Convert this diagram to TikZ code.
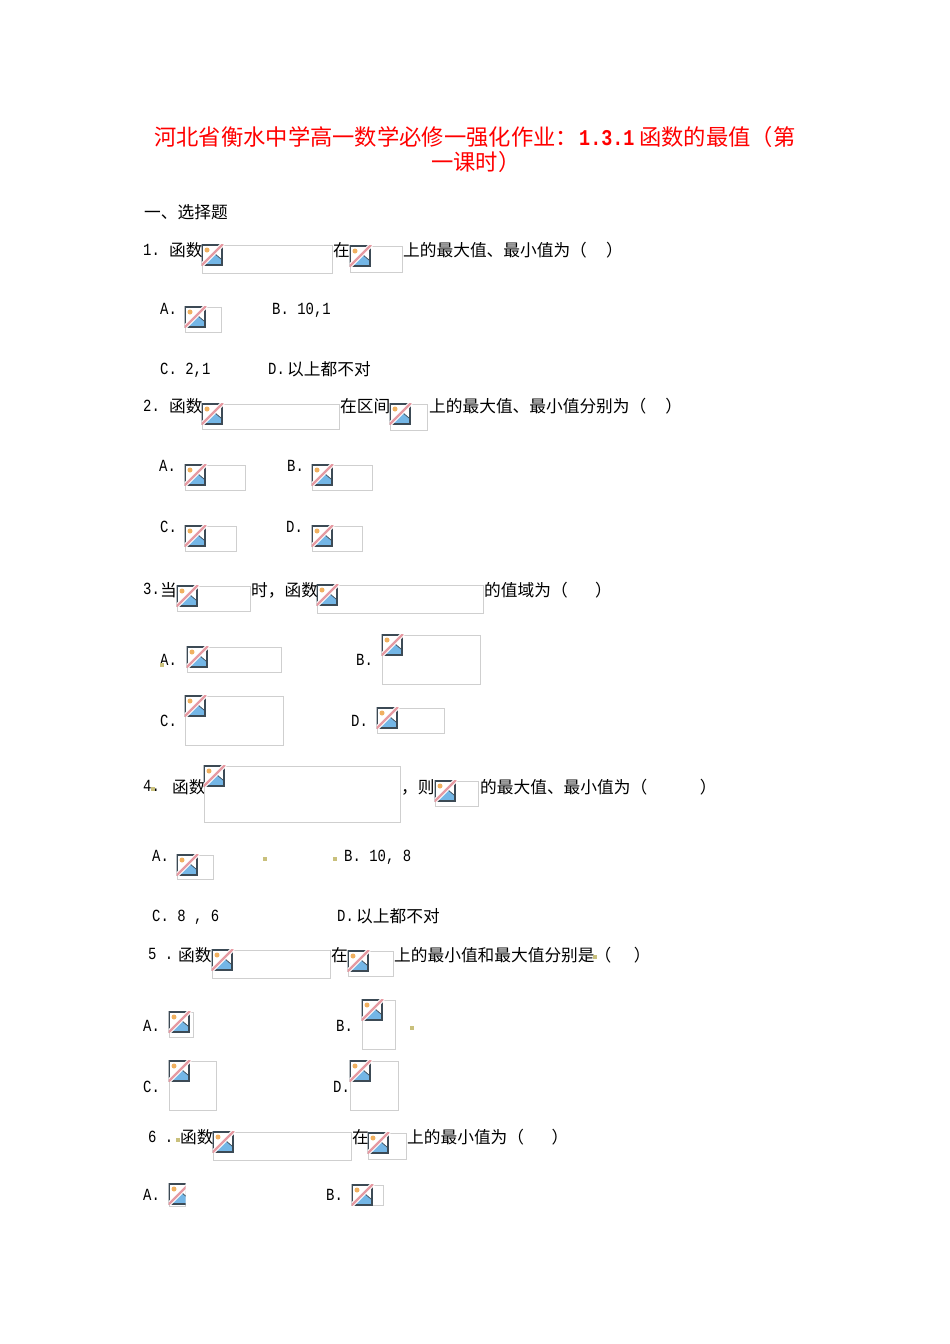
\documentclass[tikz,border=0pt]{standalone}
\usepackage{fontspec}
\newfontfamily\cjk{Noto Sans CJK SC}
\newfontfamily\latn[FakeStretch=0.82]{Liberation Mono}
\definecolor{phgray}{HTML}{CFCFCF}
\definecolor{phblue}{HTML}{74B6E6}
\definecolor{phdark}{HTML}{3C4A55}
\definecolor{phpink}{HTML}{E59AA2}
\definecolor{phsun}{HTML}{F0B060}
\definecolor{speck}{HTML}{C9C07C}
\newcommand{\brokenimg}[4]{%
  \draw[phgray,line width=1pt] (#1,#2) rectangle (#3,#4);
  \begin{scope}
    \clip (#1-0.5,#2-0.5) rectangle (#3+0.5,#2+20.5);
    \fill[white] (#1,#2) rectangle ++(20,20);
    \fill[phblue] (#1+1,#2+19) -- (#1+12,#2+8) -- (#1+19,#2+14) -- (#1+19,#2+19) -- cycle;
    \draw[phdark,line width=0.7pt] (#1+2,#2+19) -- (#1+12,#2+8) -- (#1+19,#2+14);
    \fill[phsun] (#1+5,#2+5) circle (2.5);
    \draw[phdark,line width=1.1pt] (#1,#2) rectangle ++(20,20);
    \draw[white,line width=4.5pt] (#1-1,#2+21) -- (#1+21,#2-1);
    \draw[phpink,line width=2.2pt] (#1-1,#2+21) -- (#1+21,#2-1);
  \end{scope}
}
\begin{document}
\begin{tikzpicture}[x=1pt,y=-1pt]
    \tikzstyle{txt}=[anchor=base west,inner sep=0pt,font=\cjk\fontsize{16.7}{20}\selectfont]
    \tikzstyle{lat}=[anchor=base west,inner sep=0pt,font=\latn\fontsize{17}{20}\selectfont]
    \tikzstyle{ttl}=[anchor=base west,inner sep=0pt,red,font=\cjk\fontsize{22.3}{26}\selectfont]
    \tikzstyle{ttllat}=[anchor=base west,inner sep=0pt,red,font=\latn\bfseries\fontsize{22.5}{26}\selectfont]
    \useasboundingbox (0,0) rectangle (950,1344);
    \fill[white] (0,0) rectangle (950,1344);

    % title
    \node[ttl] (title1) at (154,145) {河北省衡水中学高一数学必修一强化作业：};
    \node[ttllat] (titlenum) at (579,145) {1.3.1};
    \node[ttl] (title2) at (639,145) {函数的最值（第};
    \node[ttl] (title3) at (431,170) {一课时）};
    \node[txt] (sect) at (144,218) {一、选择题};

    % question 1
    \node[lat] (qone) at (143,255) {1.};
    \node[txt] (qonea) at (169,256) {函数};
    \node[txt] (qoneb) at (333,256) {在};
    \node[txt] (qonec) at (403,256) {上的最大值、最小值为（\hspace{1.15em}）};
    \node[lat] (qoneA) at (160,314) {A.};
    \node[lat] (qoneB) at (272,314) {B. 10,1};
    \node[lat] (qoneC) at (160,374) {C. 2,1};
    \node[lat] (qoneD) at (268,374) {D.};
    \node[txt] (qoneDt) at (287,375) {以上都不对};

    % question 2
    \node[lat] (qtwo) at (143,411) {2.};
    \node[txt] (qtwoa) at (169,412) {函数};
    \node[txt] (qtwob) at (340,412) {在区间};
    \node[txt] (qtwoc) at (429,412) {上的最大值、最小值分别为（\hspace{1.15em}）};
    \node[lat] (qtwoA) at (159,471) {A.};
    \node[lat] (qtwoB) at (287,471) {B.};
    \node[lat] (qtwoC) at (160,532) {C.};
    \node[lat] (qtwoD) at (286,532) {D.};

    % question 3
    \node[lat] (qthree) at (143,594) {3.};
    \node[txt] (qthreea) at (160,596) {当};
    \node[txt] (qthreeb) at (251,596) {时，函数};
    \node[txt] (qthreec) at (484,596) {的值域为（\hspace{1.65em}）};
    \node[lat] (qthreeA) at (160,665) {A.};
    \node[lat] (qthreeB) at (356,665) {B.};
    \node[lat] (qthreeC) at (160,726) {C.};
    \node[lat] (qthreeD) at (351,726) {D.};

    % question 4
    \node[lat] (qfour) at (143,791) {4.};
    \node[txt] (qfoura) at (172,793) {函数};
    \node[txt] (qfourb) at (401,793) {，则};
    \node[txt] (qfourc) at (480,793) {的最大值、最小值为（\hspace{3.15em}）};
    \node[lat] (qfourA) at (152,861) {A.};
    \node[lat] (qfourB) at (344,861) {B. 10, 8};
    \node[lat] (qfourC) at (152,921) {C. 8 , 6};
    \node[lat] (qfourD) at (337,921) {D.};
    \node[txt] (qfourDt) at (356,922) {以上都不对};

    % question 5
    \node[lat] (qfive) at (148,959) {5 .};
    \node[txt] (qfivea) at (178,961) {函数};
    \node[txt] (qfiveb) at (331,961) {在};
    \node[txt] (qfivec) at (394,961) {上的最小值和最大值分别是（\hspace{1.35em}）};
    \node[lat] (qfiveA) at (143,1031) {A.};
    \node[lat] (qfiveB) at (336,1031) {B.};
    \node[lat] (qfiveC) at (143,1092) {C.};
    \node[lat] (qfiveD) at (333,1092) {D.};

    % question 6
    \node[lat] (qsix) at (148,1142) {6 .};
    \node[txt] (qsixa) at (180,1143) {函数};
    \node[txt] (qsixb) at (352,1143) {在};
    \node[txt] (qsixc) at (407,1143) {上的最小值为（\hspace{1.65em}）};
    \node[lat] (qsixA) at (143,1200) {A.};
    \node[lat] (qsixB) at (326,1200) {B.};

    % image placeholders
    \brokenimg{202}{245}{332}{273}
    \brokenimg{350}{246}{402}{272}
    \brokenimg{185}{307}{221}{332}
    \brokenimg{202}{404}{339}{429}
    \brokenimg{390}{404}{427}{430}
    \brokenimg{185}{465}{245}{490}
    \brokenimg{312}{465}{372}{490}
    \brokenimg{185}{526}{236}{551}
    \brokenimg{312}{526}{362}{551}
    \brokenimg{177}{586}{250}{611}
    \brokenimg{317}{585}{483}{613}
    \brokenimg{187}{647}{281}{672}
    \brokenimg{382}{635}{480}{684}
    \brokenimg{185}{696}{283}{745}
    \brokenimg{377}{708}{444}{733}
    \brokenimg{204}{766}{400}{822}
    \brokenimg{435}{781}{478}{806}
    \brokenimg{177}{855}{213}{879}
    \brokenimg{212}{950}{330}{978}
    \brokenimg{348}{951}{393}{976}
    \brokenimg{169}{1012}{193}{1037}
    \brokenimg{362}{1000}{395}{1049}
    \brokenimg{169}{1061}{216}{1110}
    \brokenimg{350}{1061}{398}{1110}
    \brokenimg{213}{1132}{351}{1160}
    \brokenimg{368}{1133}{406}{1159}
    \brokenimg{169}{1184}{185}{1206}
    \brokenimg{352}{1185}{383}{1205}

    % specks
    \foreach \x/\y in {162/665,265/859,335/859,153/789,412/1028,595/957,178/1140}
        \fill[speck] (\x-2,\y-2) rectangle ++(4,4);
\end{tikzpicture}
\end{document}
